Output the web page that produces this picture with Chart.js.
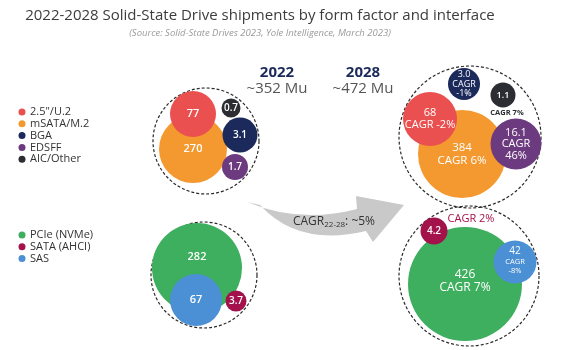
<!DOCTYPE html>
<html lang="en">
<head>
<meta charset="UTF-8">
<title>2022-2028 Solid-State Drive shipments by form factor and interface</title>
<script src="https://cdn.jsdelivr.net/npm/chart.js"></script>
<style>
  body { margin: 0; background: #fff; }
</style>
</head>
<body>
<canvas id="ssdChart" width="563" height="350"></canvas>
<script>
// values read from the infographic (Mu = million units)
const years = ['2022', '2028'];
const totals = [352, 472];
const overallCagr = '~5%';

const formFactors = ['2.5"/U.2', 'mSATA/M.2', 'BGA', 'EDSFF', 'AIC/Other'];
const formFactor2022 = [77, 270, 3.1, 1.7, 0.7];
const formFactor2028 = [68, 384, 3.0, 16.1, 1.1];
const formFactorCagr = ['-2%', '6%', '-1%', '46%', '7%'];

const interfaces = ['PCIe (NVMe)', 'SATA (AHCI)', 'SAS'];
const interface2022 = [282, 3.7, 67];
const interface2028 = [426, 4.2, 42];
const interfaceCagr = ['7%', '2%', '-8%'];

// colours
const formFactorColors = ['#e9504f', '#f4992f', '#1c2a5b', '#6c3a7e', '#2b2d32'];
const interfaceColors = ['#3eae5f', '#a3124b', '#4b8fd4'];

// bubble packing as laid out in the picture: [x, y, r] for 2022 and 2028
const formFactorPack = [
    [[193, 114, 23], [430, 119, 27]],
    [[193, 149, 34], [462, 154, 44]],
    [[240, 135, 17.5], [464, 84, 16]],
    [[235, 167, 13], [516, 144, 25.5]],
    [[231, 108, 9.5], [503, 95, 12.5]]
];
const interfacePack = [
    [[197, 268, 45], [465, 284, 57]],
    [[236, 301, 10.5], [434, 231, 13.5]],
    [[196, 300, 26], [515, 262, 21.5]]
];
// how the label of each 2028 bubble is written
const formFactorLabelStyle = [
    {size: 11, mode: 'inline'}, {size: 11.5, mode: 'inline'}, {size: 9, mode: 'stack'},
    {size: 11, mode: 'stack'}, {size: 9, mode: 'below'}
];
const interfaceLabelStyle = [
    {size: 12, mode: 'inline', dy: -3}, {size: 10, mode: 'above'}, {size: 10, mode: 'small'}
];
const clusters = [[206, 141, 53], [470, 137, 71], [204, 275, 53], [469, 276, 70]];

const FONT = '"Open Sans", sans-serif';

function fmt(v) {
    return v < 20 ? v.toFixed(1) : String(v);
}

function makeSets(names, v22, v28, cagr, colors, pack, styles, baseIdx) {
    return names.map((name, i) => ({
        label: name,
        data: [
            {x: pack[i][0][0], y: pack[i][0][1], r: pack[i][0][2]},
            {x: pack[i][1][0], y: pack[i][1][1], r: pack[i][1][2]}
        ],
        backgroundColor: colors[i],
        borderWidth: 0,
        hoverRadius: 0,
        clip: false,
        order: i === baseIdx ? 2 : 1,
        values: [v22[i], v28[i]],
        cagr: cagr[i],
        style: styles[i]
    }));
}

const datasets = [].concat(
    makeSets(formFactors, formFactor2022, formFactor2028, formFactorCagr, formFactorColors, formFactorPack, formFactorLabelStyle, 1),
    makeSets(interfaces, interface2022, interface2028, interfaceCagr, interfaceColors, interfacePack, interfaceLabelStyle, 0)
);

// dashed outlines, arrow, titles, legends
const decorPlugin = {
    id: 'decor',
    beforeDatasetsDraw(chart) {
        const ctx = chart.ctx;
        const sx = v => chart.scales.x.getPixelForValue(v);
        const sy = v => chart.scales.y.getPixelForValue(v);
        ctx.save();
        // arrow
        ctx.fillStyle = '#c9c9c9';
        ctx.beginPath();
        ctx.moveTo(sx(247), sy(202));
        ctx.quadraticCurveTo(sx(300), sy(224), sx(357), sy(209));
        ctx.lineTo(sx(356), sy(196));
        ctx.lineTo(sx(404), sy(205));
        ctx.lineTo(sx(373), sy(242));
        ctx.lineTo(sx(366), sy(231));
        ctx.quadraticCurveTo(sx(298), sy(247), sx(260), sy(205));
        ctx.closePath();
        ctx.fill();
        // arrow text with subscript
        ctx.fillStyle = '#333';
        ctx.textBaseline = 'middle';
        ctx.textAlign = 'left';
        const big = '500 12px ' + FONT, small = '500 8px ' + FONT;
        const sub = years[0].slice(2) + '-' + years[1].slice(2);
        ctx.font = big;
        const w1 = ctx.measureText('CAGR').width;
        const w3 = ctx.measureText(': ' + overallCagr).width;
        ctx.font = small;
        const w2 = ctx.measureText(sub).width;
        const tx = sx(334) - (w1 + w2 + w3) / 2;
        ctx.font = big;
        ctx.fillText('CAGR', tx, sy(222));
        ctx.font = small;
        ctx.fillText(sub, tx + w1, sy(225));
        ctx.font = big;
        ctx.fillText(': ' + overallCagr, tx + w1 + w2, sy(222));

        // dashed cluster outlines
        ctx.strokeStyle = '#2a2a2a';
        ctx.lineWidth = 1.2;
        ctx.setLineDash([3, 2]);
        clusters.forEach(c => {
            ctx.beginPath();
            ctx.arc(sx(c[0]), sy(c[1]), c[2], 0, Math.PI * 2);
            ctx.stroke();
        });
        ctx.restore();
    },
    afterDatasetsDraw(chart) {
        const ctx = chart.ctx;
        ctx.save();
        ctx.textAlign = 'center';
        ctx.textBaseline = 'middle';
        chart.data.datasets.forEach((ds, di) => {
            const meta = chart.getDatasetMeta(di);
            meta.data.forEach((pt, j) => {
                const val = fmt(ds.values[j]);
                ctx.fillStyle = '#fff';
                if (j === 0) {
                    const dy = di === 5 ? -11 : 0;
                    ctx.font = '600 11px ' + FONT;
                    if (ds.values[j] < 5) ctx.font = '600 10px ' + FONT;
                    ctx.fillText(val, pt.x, pt.y + dy);
                    return;
                }
                const st = ds.style;
                const fs = st.size;
                const dy = st.dy || 0;
                if (st.mode === 'inline') {
                    ctx.font = '500 ' + fs + 'px ' + FONT;
                    ctx.fillText(val, pt.x, pt.y - fs * 0.55 + dy);
                    ctx.fillText('CAGR ' + ds.cagr, pt.x, pt.y + fs * 0.55 + dy);
                } else if (st.mode === 'stack') {
                    ctx.font = '500 ' + fs + 'px ' + FONT;
                    ctx.fillText(val, pt.x, pt.y - fs * 1.05);
                    ctx.fillText('CAGR', pt.x, pt.y);
                    ctx.fillText(ds.cagr, pt.x, pt.y + fs * 1.05);
                } else if (st.mode === 'small') {
                    ctx.font = '500 ' + fs + 'px ' + FONT;
                    ctx.fillText(val, pt.x, pt.y - 11);
                    ctx.font = '400 7.5px ' + FONT;
                    ctx.fillText('CAGR', pt.x, pt.y);
                    ctx.fillText(ds.cagr, pt.x, pt.y + 9);
                } else if (st.mode === 'below') {
                    ctx.font = '600 ' + fs + 'px ' + FONT;
                    ctx.fillText(val, pt.x, pt.y);
                    ctx.fillStyle = '#2b2d32';
                    ctx.font = '700 7.5px ' + FONT;
                    ctx.fillText('CAGR ' + ds.cagr, pt.x + 4, pt.y + 18);
                } else if (st.mode === 'above') {
                    ctx.font = '600 ' + fs + 'px ' + FONT;
                    ctx.fillText(val, pt.x, pt.y);
                    ctx.fillStyle = ds.backgroundColor;
                    ctx.font = '500 11px ' + FONT;
                    ctx.fillText('CAGR ' + ds.cagr, pt.x + 37, pt.y - 12);
                }
            });
        });
        ctx.restore();
    },
    afterDraw(chart) {
        const ctx = chart.ctx;
        ctx.save();
        ctx.textAlign = 'center';
        ctx.textBaseline = 'middle';
        ctx.fillStyle = '#3c3c3c';
        ctx.font = '400 15px ' + FONT;
        ctx.fillText('2022-2028 Solid-State Drive shipments by form factor and interface', 260, 16);
        ctx.fillStyle = '#9a9a9a';
        ctx.font = 'italic 400 9.5px ' + FONT;
        ctx.fillText('(Source: Solid-State Drives 2023, Yole Intelligence, March 2023)', 260, 33);

        // year headers
        const hx = [277, 363];
        years.forEach((yr, i) => {
            ctx.fillStyle = '#1c2a5b';
            ctx.font = '700 15px ' + FONT;
            ctx.fillText(yr, hx[i], 73);
            ctx.fillStyle = '#555';
            ctx.font = '400 15px ' + FONT;
            ctx.fillText('~' + totals[i] + ' Mu', hx[i], 89);
        });

        // legends
        ctx.textAlign = 'left';
        ctx.font = '400 11px ' + FONT;
        const drawLegend = (names, colors, y0) => {
            names.forEach((n, i) => {
                const yy = y0 + i * 11.8;
                ctx.fillStyle = colors[i];
                ctx.beginPath();
                ctx.arc(22, yy, 3.5, 0, Math.PI * 2);
                ctx.fill();
                ctx.fillStyle = '#333';
                ctx.fillText(n, 30, yy);
            });
        };
        drawLegend(formFactors, formFactorColors, 112);
        drawLegend(interfaces, interfaceColors, 235);
        ctx.restore();
    }
};

const ctx = document.getElementById('ssdChart').getContext('2d');
const ssdChart = new Chart(ctx, {
    type: 'bubble',
    data: { datasets: datasets },
    options: {
        responsive: false,
        animation: false,
        layout: { padding: 0, autoPadding: false },
        scales: {
            x: { type: 'linear', min: 0, max: 563, display: false },
            y: { type: 'linear', min: 0, max: 350, reverse: true, display: false }
        },
        plugins: {
            legend: { display: false },
            tooltip: { enabled: false }
        }
    },
    plugins: [decorPlugin]
});
</script>
</body>
</html>
